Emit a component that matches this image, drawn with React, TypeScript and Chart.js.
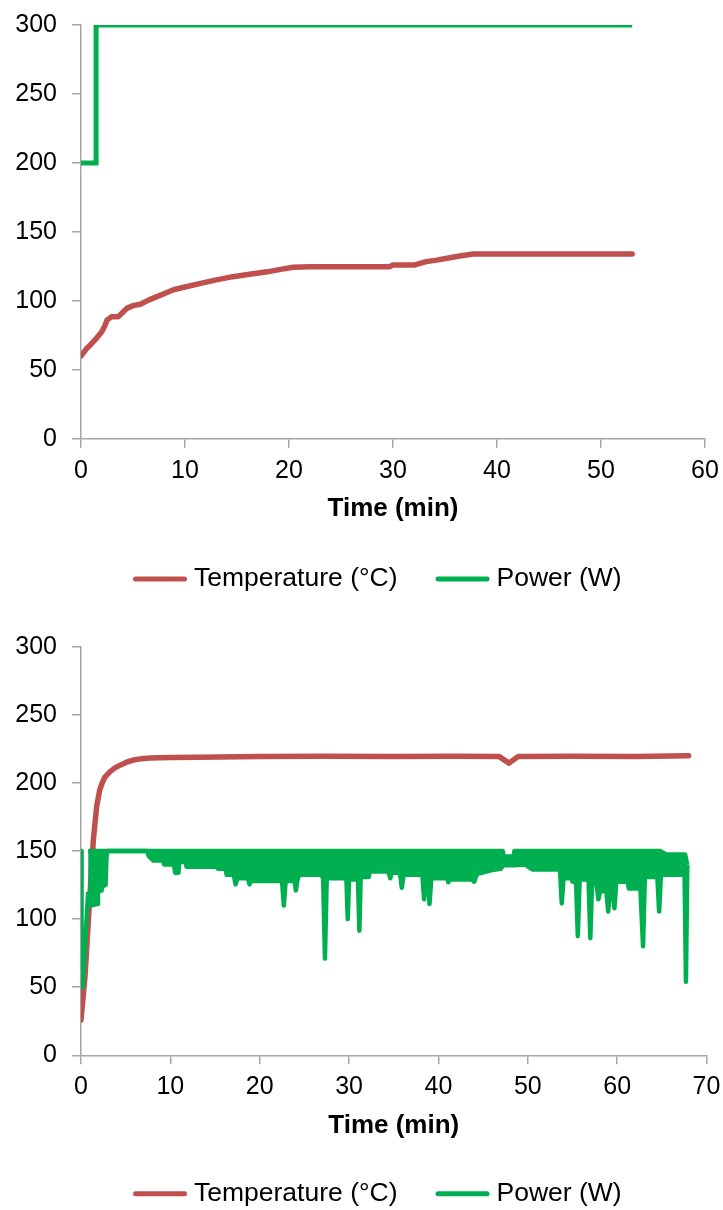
import React, { useEffect, useRef } from 'react';
import { Chart, registerables } from 'chart.js';

Chart.register(...registerables);

const RED = '#C0504D';
const GREEN = '#00B050';
const AXIS = '#a6a6a6';
const FONT = '"Liberation Sans", Arial, Helvetica, sans-serif';

const legendLabels = ['Temperature (°C)', 'Power (W)'];
const xTitle = 'Time (min)';

// ---------- Chart 1 ----------
const temp1Time = [0, 0.5, 0.9, 1.5, 2.0, 2.3, 2.5, 2.95, 3.6, 4.0, 4.4, 5.0, 5.7, 6.5, 7.3, 8.1, 8.9, 10.0, 11.4, 12.9, 14.6, 16.2, 17.9, 19.2, 20.4, 22.0, 24.3, 29.7, 30.0, 32.1, 33.2, 34.2, 35.2, 36.4, 37.7, 53.0];
const temp1 = [60, 65, 68, 73, 77.5, 82, 86, 88.5, 88.5, 91.5, 94.5, 96.5, 97.5, 100.5, 103, 105.5, 108, 110, 112.5, 115, 117.5, 119.3, 121, 122.8, 124.3, 124.7, 124.7, 124.7, 126, 126, 128.4, 129.5, 130.8, 132.5, 134, 134];
const power1Time = [0, 1.45, 1.45, 53.0];
const power1 = [200, 200, 300, 300];

// ---------- Chart 2 ----------
const temp2Time = [0, 0.45, 0.8, 1.1, 1.38, 1.75, 2.1, 2.4, 2.7, 3.25, 3.8, 4.37, 5.1, 5.86, 6.8, 7.7, 10, 13, 20, 27, 35, 42, 46.8, 47.9, 48.9, 55, 62, 68];
const temp2 = [26, 58, 96, 128, 158, 182.5, 195, 200.5, 204.5, 208.3, 211, 213, 215.2, 216.8, 217.8, 218.3, 218.6, 218.8, 219.3, 219.5, 219.3, 219.5, 219.3, 214.5, 219.3, 219.5, 219.3, 220];

const power2StartTime = [0, 0.06, 0.2, 0.8];
const power2Start = [150, 50, 50, 120];

const power2HiTime = [0.8, 47.2, 47.3, 48.4, 48.5, 64.8, 65.5, 67.6, 67.85];
const power2Hi = [150, 150, 146, 146, 150, 150, 147.5, 147.5, 140];

const power2LoTime = [
  0.8, 1.05, 1.8, 1.9, 2.3, 2.4, 2.75, 2.85, 2.95, 7.4, 7.6, 8.1, 9.2, 9.3, 10.4, 10.55, 10.9, 11.0, 11.7, 11.8,
  15.2, 15.3, 16.2, 16.3, 17.1, 17.3, 17.5, 18.7, 18.85, 19.0, 22.5, 22.7, 22.9, 23.9, 24.05, 24.2, 24.4, 26.9, 27.1, 27.3,
  27.5, 29.7, 29.85, 30.0, 31.0, 31.15, 31.3, 32.2, 32.3, 34.4, 34.6, 34.8, 35.7, 35.9, 36.1, 38.2, 38.4, 38.6, 38.85, 39.0,
  39.2, 41.0, 41.1, 41.3, 43.8, 44.0, 44.3, 46.0, 47.0, 47.2, 48.5, 49.9, 50.0, 50.5, 53.6, 53.8, 54.0, 54.9, 55.0, 55.4,
  55.6, 55.8, 56.8, 57.0, 57.2, 57.7, 57.9, 58.1, 58.8, 59.0, 59.2, 59.5, 59.7, 59.9, 61.2, 61.3, 62.6, 62.9, 63.1, 64.5,
  64.7, 64.9, 67.4, 67.55, 67.7, 67.85,
];
const power2Lo = [
  120, 110, 111, 120, 121, 124, 125, 145, 150, 150, 146, 143, 143, 140, 140, 134, 134, 142, 142, 138.5,
  138.5, 137, 137, 132.5, 132.5, 125.5, 130, 130, 125.5, 128, 128, 110, 128, 128, 121, 128, 132.5, 132.5, 130, 71,
  130, 130, 100, 129, 129, 91.5, 131, 131, 135, 135, 130, 134, 134, 123, 132.5, 132.5, 114.5, 132, 132, 111,
  130, 130, 127, 129, 129, 127.5, 133, 136, 137, 139.5, 139.5, 140, 138.5, 136.5, 136.5, 111.5, 130, 130, 127.5, 127.5,
  87.5, 129, 129, 86, 129, 125, 114.5, 120.5, 120.5, 105.5, 120.5, 120.5, 108, 127.5, 127.5, 122.5, 122.5, 80, 131, 131,
  105.5, 132.5, 132.5, 132, 54, 140,
];

const xy = (xs: number[], ys: number[]) => xs.map((x, i) => ({ x, y: ys[i] }));

const tickFont = { family: FONT, size: 25 };

function legendPlugin(legendY: number) {
  return {
    id: 'customLegend',
    afterDraw(chart: any) {
      const ctx = chart.ctx as CanvasRenderingContext2D;
      const colors = [RED, GREEN];
      ctx.save();
      ctx.font = `26.5px ${FONT}`;
      ctx.textBaseline = 'middle';
      ctx.textAlign = 'left';
      let x = 133;
      legendLabels.forEach((label, i) => {
        ctx.strokeStyle = colors[i];
        ctx.lineWidth = 5;
        ctx.lineCap = 'round';
        ctx.beginPath();
        ctx.moveTo(x + 2.5, legendY);
        ctx.lineTo(x + 54 - 2.5, legendY);
        ctx.stroke();
        ctx.fillStyle = '#000';
        ctx.fillText(label, x + 61, legendY);
        x += 61 + ctx.measureText(label).width + 38;
      });
      ctx.restore();
    },
  };
}

function zeroPadding(s: any) {
  s.paddingTop = 0;
  s.paddingBottom = 0;
  s.paddingLeft = 0;
  s.paddingRight = 0;
}

function buildConfig(
  datasets: any[],
  xMax: number,
  pad: { top: number; right: number; bottom: number },
  legendY: number,
): any {
  const gridOpts = {
    display: true,
    drawOnChartArea: false,
    drawTicks: true,
    tickLength: 9,
    color: AXIS,
    lineWidth: 1.5,
  };
  const borderOpts = { display: true, color: AXIS, width: 1.5 };
  return {
    type: 'line',
    data: { datasets },
    options: {
      responsive: false,
      animation: false,
      events: [],
      devicePixelRatio: 1,
      layout: { autoPadding: false, padding: { left: 0, top: pad.top, right: pad.right, bottom: pad.bottom } },
      plugins: { legend: { display: false }, tooltip: { enabled: false } },
      elements: { point: { radius: 0 }, line: { tension: 0 } },
      scales: {
        x: {
          type: 'linear',
          min: 0,
          max: xMax,
          ticks: { stepSize: 10, autoSkip: false, maxRotation: 0, minRotation: 0, padding: 8, color: '#000', font: tickFont },
          grid: gridOpts,
          border: borderOpts,
          title: {
            display: true,
            text: xTitle,
            color: '#000',
            font: { family: FONT, size: 26, weight: 'bold' },
            padding: { top: 0, bottom: 4 },
          },
          afterFit: (s: any) => {
            s.height = 90;
            zeroPadding(s);
          },
        },
        y: {
          type: 'linear',
          min: 0,
          max: 300,
          ticks: { stepSize: 50, padding: 15, color: '#000', font: tickFont },
          grid: gridOpts,
          border: borderOpts,
          afterFit: (s: any) => {
            s.width = 81;
            zeroPadding(s);
          },
        },
      },
    },
    plugins: [legendPlugin(legendY)],
  };
}

function ChartCanvas({ config, height }: { config: () => any; height: number }) {
  const ref = useRef<HTMLCanvasElement | null>(null);
  useEffect(() => {
    if (!ref.current) return;
    const chart = new Chart(ref.current, config());
    return () => chart.destroy();
  }, []);
  return <canvas ref={ref} width={723} height={height} style={{ display: 'block', width: 723, height }} />;
}

export default function App() {
  const config1 = () =>
    buildConfig(
      [
        {
          label: 'Power (W)',
          data: xy(power1Time, power1),
          borderColor: GREEN,
          borderWidth: 5,
          fill: false,
          clip: { left: 5, top: 0, right: 5, bottom: 5 },
        },
        {
          label: 'Temperature (°C)',
          data: xy(temp1Time, temp1),
          borderColor: RED,
          borderWidth: 5.5,
          borderJoinStyle: 'round',
          borderCapStyle: 'round',
          fill: false,
        },
      ],
      60,
      { top: 25, right: 18, bottom: 81.3 },
      579,
    );

  const config2 = () =>
    buildConfig(
      [
        {
          label: 'Power (W) upper',
          data: xy(power2HiTime, power2Hi),
          borderColor: GREEN,
          borderWidth: 4.5,
          borderJoinStyle: 'round',
          fill: false,
        },
        {
          label: 'Power (W) lower',
          data: xy(power2LoTime, power2Lo),
          borderColor: GREEN,
          backgroundColor: GREEN,
          borderWidth: 4.5,
          borderJoinStyle: 'round',
          fill: '-1',
        },
        {
          label: 'Power (W) start',
          data: xy(power2StartTime, power2Start),
          borderColor: GREEN,
          borderWidth: 4.5,
          borderJoinStyle: 'round',
          fill: false,
        },
        {
          label: 'Temperature (°C)',
          data: xy(temp2Time, temp2),
          borderColor: RED,
          borderWidth: 5.5,
          borderJoinStyle: 'round',
          borderCapStyle: 'round',
          fill: false,
        },
      ],
      70,
      { top: 36.7, right: 16.5, bottom: 64.7 },
      583.7,
    );

  return (
    <div style={{ position: 'absolute', left: 0, top: 0, width: 723, background: '#fff' }}>
      <ChartCanvas config={config1} height={610} />
      <ChartCanvas config={config2} height={600} />
    </div>
  );
}
